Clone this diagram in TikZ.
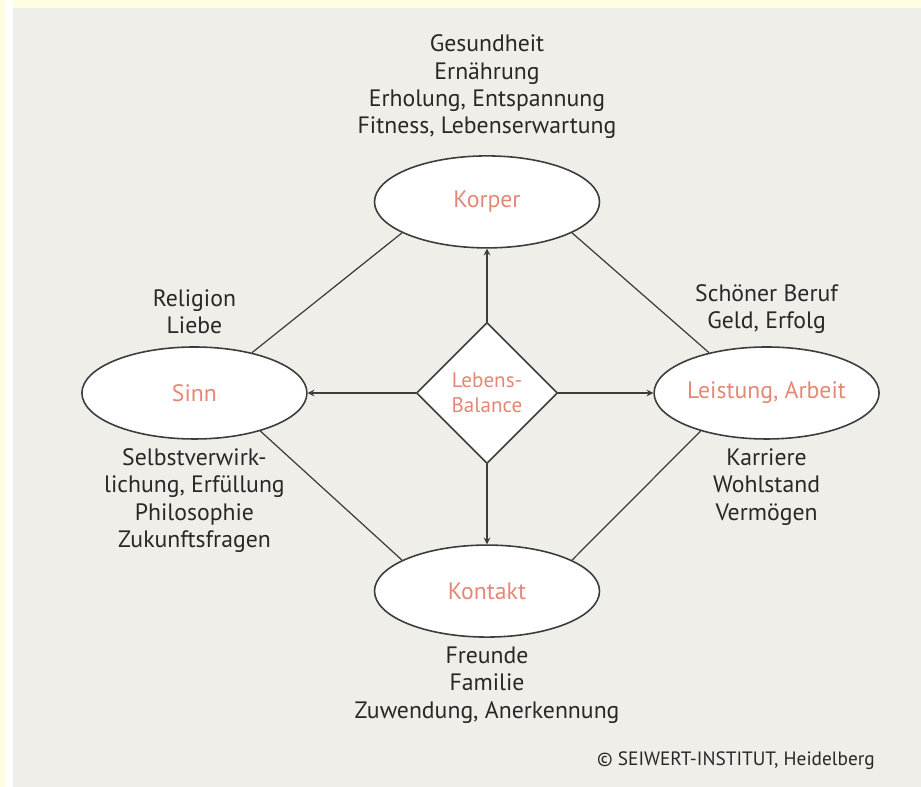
\documentclass[tikz,border=0pt]{standalone}
\usepackage{fontspec}
\setmainfont{PT Sans}
\usepackage{xcolor}
\usepackage{tikz}
\usetikzlibrary{shapes.geometric, arrows, positioning}

\definecolor{paper}{RGB}{239,238,233}
\definecolor{rim}{RGB}{255,253,226}
\definecolor{ink}{RGB}{40,40,40}
\definecolor{salmon}{RGB}{228,136,118}
\definecolor{linegray}{RGB}{60,60,60}

\begin{document}
\begin{tikzpicture}[
    node distance=0.3cm and 2cm,
    area/.style={draw=linegray, line width=0.9pt, ellipse, fill=white,
      minimum width=4.5cm, minimum height=1.84cm, inner sep=0pt,
      text=salmon, font=\fontsize{13.5}{15}\selectfont},
    centre/.style={draw=linegray, line width=0.9pt, diamond, aspect=1, fill=white,
      minimum width=2.82cm, minimum height=2.82cm, inner sep=0pt, align=center,
      text=salmon, font=\fontsize{12}{14}\selectfont},
    notes/.style={align=center, text=ink, font=\fontsize{13.5}{15.6}\selectfont},
    link/.style={draw=linegray, line width=0.7pt},
    arrow/.style={link, ->, >=stealth}
]
% page background
\fill[rim] (0,0) rectangle (18.42,15.74);
\fill[white] (0.1,0) rectangle (0.26,15.74);
\fill[paper] (0.26,0) rectangle (18.42,15.58);
\useasboundingbox (0,0) rectangle (18.42,15.74);

\node[centre] (balance) at (9.74,7.88) {Lebens-\\Balance};
\node[area, above=1.46cm of balance] (koerper) {Korper};
\node[area, left=2.16cm of balance] (sinn) {Sinn};
\node[area, right=1.9cm of balance] (leistung) {Leistung, Arbeit};
\node[area, below=1.6cm of balance] (kontakt) {Kontakt};

\node[notes, above=0.2cm of koerper] (health) {Gesundheit\\Ernährung\\Erholung, Entspannung\\Fitness, Lebenserwartung};
\node[notes, above=0.12cm of sinn] (belief) {Religion\\Liebe};
\node[notes, above=0.12cm of leistung] (career) {Schöner Beruf\\Geld, Erfolg};
\node[notes, below=0.05cm of sinn] (purpose) {Selbstverwirk-\\lichung, Erfüllung\\Philosophie\\Zukunftsfragen};
\node[notes, below=0.05cm of leistung] (wealth) {Karriere\\Wohlstand\\Vermögen};
\node[notes, below=0.05cm of kontakt] (people) {Freunde\\Familie\\Zuwendung, Anerkennung};
\node[anchor=base east, text=ink, font=\fontsize{11}{13}\selectfont] (credit) at (17.62,0.42) {© SEIWERT-INSTITUT, Heidelberg};

\draw[link] (koerper.200) -- (sinn.35);
\draw[link] (koerper.340) -- (leistung.145);
\draw[link] (sinn.-30) -- (kontakt.160);
\draw[link] (leistung.210) -- (kontakt.20);

\draw[arrow] (balance.north) -- (koerper.south);
\draw[arrow] (balance.west) -- (sinn.east);
\draw[arrow] (balance.east) -- (leistung.west);
\draw[arrow] (balance.south) -- (kontakt.north);
\end{tikzpicture}
\end{document}
